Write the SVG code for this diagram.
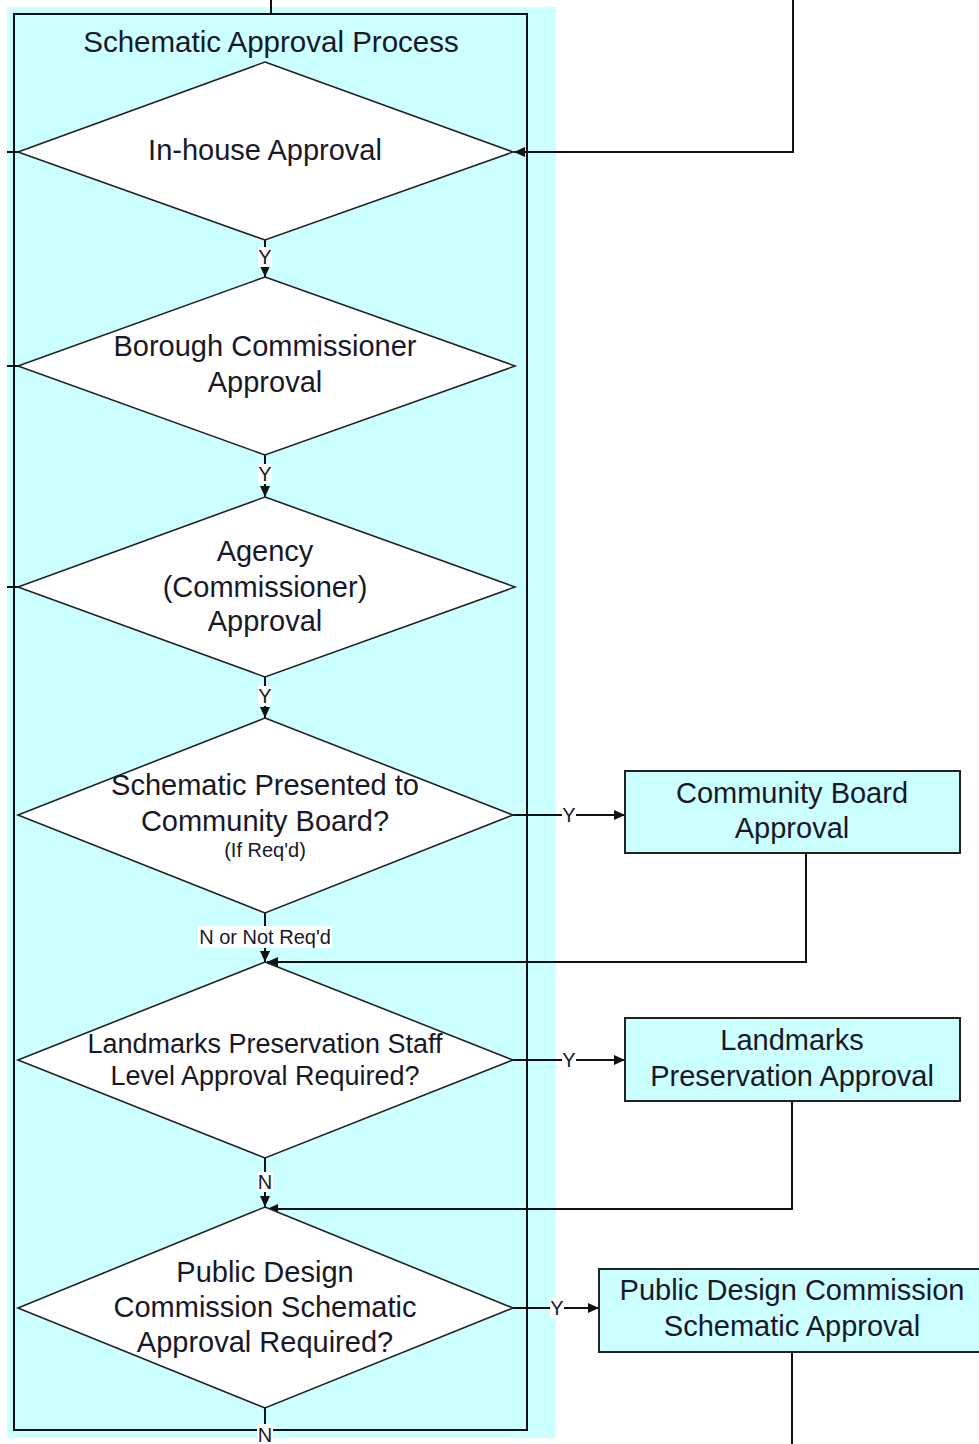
<svg xmlns="http://www.w3.org/2000/svg" width="979" height="1444" viewBox="0 0 979 1444">
  <style>
    .t { font-family: "Liberation Sans", Arial, sans-serif; font-size: 29px; fill: #181828; text-anchor: middle; }
    .s { font-family: "Liberation Sans", Arial, sans-serif; font-size: 20px; fill: #181828; text-anchor: middle; }
    .dia { fill: #ffffff; stroke: #222; stroke-width: 1.6; }
    .box { fill: #ccffff; stroke: #222; stroke-width: 2; }
    .ln { fill: none; stroke: #111; stroke-width: 2; }
    .lbl { fill: #ffffff; }
  </style>
  <defs>
    <marker id="arr" markerUnits="userSpaceOnUse" markerWidth="12" markerHeight="10" refX="11" refY="5" orient="auto">
      <path d="M0,0 L11,5 L0,10 z" fill="#111"/>
    </marker>
  </defs>

  <rect width="979" height="1444" fill="#ffffff"/>

  <!-- swimlane -->
  <g id="lane">
    <rect x="7" y="7" width="549" height="1431" fill="#ccffff"/>
    <rect x="14" y="14" width="513" height="1416" fill="none" stroke="#111" stroke-width="2"/>
    <text class="t" x="271" y="52" style="font-size:29.5px">Schematic Approval Process</text>
  </g>

  <!-- connectors -->
  <g id="connectors">
    <line class="ln" x1="271" y1="0" x2="271" y2="14"/>
    <!-- left exits -->
    <line class="ln" x1="7" y1="152" x2="18" y2="152"/>
    <line class="ln" x1="7" y1="366" x2="18" y2="366"/>
    <line class="ln" x1="7" y1="587" x2="18" y2="587"/>
    <!-- return into in-house approval -->
    <path class="ln" d="M793,0 V152 H514" marker-end="url(#arr)"/>
    <!-- vertical Y flow -->
    <line class="ln" x1="265" y1="240" x2="265" y2="277" marker-end="url(#arr)"/>
    <line class="ln" x1="265" y1="455" x2="265" y2="497" marker-end="url(#arr)"/>
    <line class="ln" x1="265" y1="677" x2="265" y2="718" marker-end="url(#arr)"/>
    <line class="ln" x1="265" y1="913" x2="265" y2="962" marker-end="url(#arr)"/>
    <line class="ln" x1="265" y1="1158" x2="265" y2="1207" marker-end="url(#arr)"/>
    <line class="ln" x1="265" y1="1408" x2="265" y2="1444"/>
    <!-- right branches -->
    <line class="ln" x1="513" y1="815" x2="625" y2="815" marker-end="url(#arr)"/>
    <path class="ln" d="M806,853 V962 H267" marker-end="url(#arr)"/>
    <line class="ln" x1="513" y1="1060" x2="625" y2="1060" marker-end="url(#arr)"/>
    <path class="ln" d="M792,1101 V1209 H267" marker-end="url(#arr)"/>
    <line class="ln" x1="513" y1="1308" x2="599" y2="1308" marker-end="url(#arr)"/>
    <line class="ln" x1="792" y1="1352" x2="792" y2="1444"/>

    <!-- labels -->
    <rect class="lbl" x="258" y="247" width="14" height="20"/>
    <text class="s" x="265" y="264">Y</text>
    <rect class="lbl" x="258" y="464" width="14" height="20"/>
    <text class="s" x="265" y="481">Y</text>
    <rect class="lbl" x="258" y="686" width="14" height="20"/>
    <text class="s" x="265" y="703">Y</text>
    <rect class="lbl" x="198" y="926" width="134" height="22"/>
    <text class="s" x="265" y="944">N or Not Req'd</text>
    <rect class="lbl" x="257" y="1172" width="16" height="20"/>
    <text class="s" x="265" y="1189">N</text>
    <rect class="lbl" x="257" y="1424" width="16" height="20"/>
    <text class="s" x="265" y="1442">N</text>
    <rect class="lbl" x="562" y="805" width="14" height="20"/>
    <text class="s" x="569" y="822">Y</text>
    <rect class="lbl" x="562" y="1050" width="14" height="20"/>
    <text class="s" x="569" y="1067">Y</text>
    <rect class="lbl" x="550" y="1298" width="14" height="20"/>
    <text class="s" x="557" y="1315">Y</text>
  </g>

  <g id="inhouse">
    <polygon class="dia" points="265,62 513,152 265,240 18,152"/>
    <text class="t" x="265" y="160">In-house Approval</text>
  </g>

  <g id="borough">
    <polygon class="dia" points="265,277 515,366 265,455 18,366"/>
    <text class="t" x="265" y="356">Borough Commissioner</text>
    <text class="t" x="265" y="392">Approval</text>
  </g>

  <g id="agency">
    <polygon class="dia" points="265,497 515,587 265,677 18,587"/>
    <text class="t" x="265" y="561">Agency</text>
    <text class="t" x="265" y="597">(Commissioner)</text>
    <text class="t" x="265" y="631">Approval</text>
  </g>

  <g id="community-q">
    <polygon class="dia" points="265,718 513,815 265,913 18,815"/>
    <text class="t" x="265" y="795">Schematic Presented to</text>
    <text class="t" x="265" y="831">Community Board?</text>
    <text class="s" x="265" y="857">(If Req'd)</text>
  </g>

  <g id="landmarks-q">
    <polygon class="dia" points="265,962 513,1060 265,1158 18,1060"/>
    <text class="t" x="265" y="1053" style="font-size:27px">Landmarks Preservation Staff</text>
    <text class="t" x="265" y="1085" style="font-size:27px">Level Approval Required?</text>
  </g>

  <g id="pdc-q">
    <polygon class="dia" points="265,1207 513,1308 265,1408 18,1308"/>
    <text class="t" x="265" y="1282">Public Design</text>
    <text class="t" x="265" y="1317">Commission Schematic</text>
    <text class="t" x="265" y="1352">Approval Required?</text>
  </g>

  <g id="community-board">
    <rect class="box" x="625" y="771" width="335" height="82"/>
    <text class="t" x="792" y="803">Community Board</text>
    <text class="t" x="792" y="838">Approval</text>
  </g>

  <g id="landmarks">
    <rect class="box" x="625" y="1018" width="335" height="83"/>
    <text class="t" x="792" y="1050">Landmarks</text>
    <text class="t" x="792" y="1086">Preservation Approval</text>
  </g>

  <g id="pdc">
    <rect class="box" x="599" y="1269" width="390" height="83"/>
    <text class="t" x="792" y="1300">Public Design Commission</text>
    <text class="t" x="792" y="1336">Schematic Approval</text>
  </g>
</svg>
